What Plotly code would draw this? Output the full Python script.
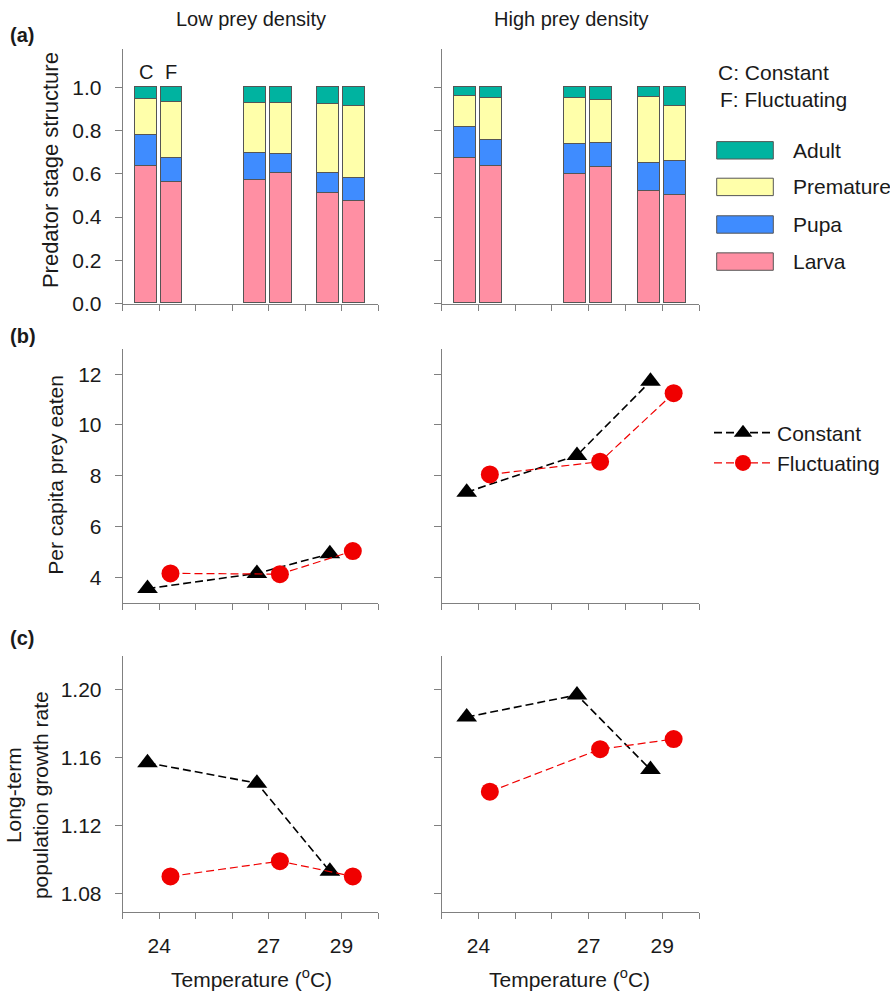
import plotly.graph_objects as go

# ---------------- data ----------------
temperatures = [24, 27, 29]
treatments = ["C", "F"]            # Constant, Fluctuating
stage_names = ["Larva", "Pupa", "Premature", "Adult"]

# stage proportions, order: C24, F24, C27, F27, C29, F29
low_larva = [0.634, 0.562, 0.568, 0.600, 0.507, 0.474]
low_pupa = [0.145, 0.110, 0.127, 0.090, 0.096, 0.105]
low_premature = [0.165, 0.257, 0.229, 0.234, 0.316, 0.333]
low_adult = [0.056, 0.071, 0.076, 0.076, 0.081, 0.088]

high_larva = [0.673, 0.635, 0.598, 0.629, 0.519, 0.501]
high_pupa = [0.141, 0.119, 0.139, 0.113, 0.127, 0.154]
high_premature = [0.145, 0.196, 0.210, 0.198, 0.308, 0.255]
high_adult = [0.041, 0.050, 0.053, 0.060, 0.046, 0.090]

# per capita prey eaten
prey_low_constant = [3.55, 4.15, 4.92]
prey_low_fluctuating = [4.15, 4.12, 5.03]
prey_high_constant = [7.35, 8.80, 11.72]
prey_high_fluctuating = [8.05, 8.55, 11.25]

# long-term population growth rate
growth_low_constant = [1.157, 1.145, 1.093]
growth_low_fluctuating = [1.090, 1.099, 1.090]
growth_high_constant = [1.184, 1.197, 1.153]
growth_high_fluctuating = [1.140, 1.165, 1.171]

y_ticks_a = [0.0, 0.2, 0.4, 0.6, 0.8, 1.0]
y_ticks_b = [4, 6, 8, 10, 12]
y_ticks_c = [1.08, 1.12, 1.16, 1.20]
x_minor_ticks = [23, 25, 26, 28, 30]

# ---------------- style ----------------
W, H = 890, 995
FONT = "Arial, 'Liberation Sans', sans-serif"
TXT = "#1a1a1a"
AX = "#808080"
stage_colors = {"Larva": "#ff8fa3", "Pupa": "#3f8cff",
                "Premature": "#ffffaa", "Adult": "#00b3a0"}
EDGE = "#555555"
BAR_OFF = {"C": -0.37, "F": 0.33}
PT_OFF = {"C": -0.32, "F": 0.31}
BAR_W = 0.6


def px(xp):
    return xp / W


def py(yp):
    return 1 - yp / H


fig = go.Figure()

# ---------- panel (a): stacked bars ----------
bar_x = [t + BAR_OFF[tr] for t in temperatures for tr in treatments]
for stages, xa, ya in [
        ([low_larva, low_pupa, low_premature, low_adult], "x", "y"),
        ([high_larva, high_pupa, high_premature, high_adult], "x2", "y2")]:
    for name, vals in zip(stage_names, stages):
        fig.add_trace(go.Bar(
            x=bar_x, y=vals, width=BAR_W, name=name, xaxis=xa, yaxis=ya,
            marker=dict(color=stage_colors[name], line=dict(color=EDGE, width=1)),
            showlegend=False))


# ---------- panels (b) and (c): lines ----------
def add_lines(c_vals, f_vals, xa, ya, legend):
    fig.add_trace(go.Scatter(
        x=[t + PT_OFF["C"] for t in temperatures], y=c_vals, mode="lines+markers",
        name="Constant", xaxis=xa, yaxis=ya, legend="legend2",
        line=dict(color="black", width=1.6, dash="8px,4px"),
        marker=dict(symbol="triangle-up", size=18, color="black"),
        showlegend=legend))
    fig.add_trace(go.Scatter(
        x=[t + PT_OFF["F"] for t in temperatures], y=f_vals, mode="lines+markers",
        name="Fluctuating", xaxis=xa, yaxis=ya, legend="legend2",
        line=dict(color="#f00000", width=1.2, dash="8px,4px"),
        marker=dict(symbol="circle", size=18, color="#f00000"),
        showlegend=legend))


add_lines(prey_low_constant, prey_low_fluctuating, "x3", "y3", True)
add_lines(prey_high_constant, prey_high_fluctuating, "x4", "y4", False)
add_lines(growth_low_constant, growth_low_fluctuating, "x5", "y5", False)
add_lines(growth_high_constant, growth_high_fluctuating, "x6", "y6", False)

# ---------- axes ----------
xdom_left = [px(122.7), px(378)]
xdom_right = [px(441.7), px(699)]
ydom = {"a": [py(307), py(50)], "b": [py(609.3), py(352.7)], "c": [py(921.7), py(663.3)]}
yrng = {"a": [0, 1.175], "b": [3, 13], "c": [1.0693, 1.22]}
yticks = {"a": (y_ticks_a, ".1f"), "b": (y_ticks_b, "d"), "c": (y_ticks_c, ".2f")}

layout_axes = {}
panels = [("a", "left"), ("a", "right"), ("b", "left"), ("b", "right"),
          ("c", "left"), ("c", "right")]
for i, (row, side) in enumerate(panels, start=1):
    xn = "xaxis" if i == 1 else f"xaxis{i}"
    yn = "yaxis" if i == 1 else f"yaxis{i}"
    xid = "x" if i == 1 else f"x{i}"
    yid = "y" if i == 1 else f"y{i}"
    layout_axes[xn] = dict(
        domain=xdom_left if side == "left" else xdom_right, anchor=yid,
        range=[23, 30], tickmode="array", tickvals=temperatures,
        ticktext=[str(t) for t in temperatures], showticklabels=(row == "c"),
        ticks="outside", ticklen=6, tickcolor=AX, tickwidth=1,
        minor=dict(tickmode="array", tickvals=x_minor_ticks, ticks="outside",
                   ticklen=6, tickcolor=AX, tickwidth=1, showgrid=False),
        ticklabelstandoff=9,
        showline=True, linecolor=AX, linewidth=1, showgrid=False,
        zeroline=False, fixedrange=True,
        tickfont=dict(size=21, color=TXT, family=FONT))
    tv, tf = yticks[row]
    layout_axes[yn] = dict(
        domain=ydom[row], anchor=xid, range=yrng[row],
        tickmode="array", tickvals=tv, tickformat=tf,
        showticklabels=(side == "left"),
        ticks="outside", ticklen=7, tickcolor=AX, tickwidth=1,
        ticklabelstandoff=9,
        showline=True, linecolor=AX, linewidth=1, showgrid=False,
        zeroline=False, fixedrange=True,
        tickfont=dict(size=21, color=TXT, family=FONT))

# ---------- annotations ----------
ann = []


def text(x, y, s, size=20, xanchor="center", angle=0, bold=False):
    ann.append(dict(x=px(x), y=py(y), xref="paper", yref="paper", text=(f"<b>{s}</b>" if bold else s),
                    showarrow=False, xanchor=xanchor, yanchor="middle", textangle=angle,
                    font=dict(size=size, color=TXT, family=FONT)))


text(251, 19, "Low prey density", 20)
text(571, 19, "High prey density", 20)
text(8, 35, "(a)", 20, "left", bold=True)
text(8, 340, "(b)", 20, "left", bold=True)
text(8, 645, "(c)", 20, "left", bold=True)
text(50, 172, "Predator stage structure", 22, angle=-90)
text(56, 480, "Per capita prey eaten", 21, angle=-90)
text(27, 804, "Long-term<br>population growth rate", 21, angle=-90)
text(251, 989, "Temperature (<sup>o</sup>C)", 21)
text(569, 989, "Temperature (<sup>o</sup>C)", 21)
text(716, 73, "C: Constant", 21, "left")
text(718, 101, "F: Fluctuating", 21, "left")

# C / F labels above first pair of bars
for tr in treatments:
    ann.append(dict(x=temperatures[0] + BAR_OFF[tr], y=1.07, xref="x", yref="y", text=tr,
                    showarrow=False, xanchor="center", yanchor="middle",
                    font=dict(size=20, color=TXT, family=FONT)))

# stage legend (swatches)
shapes = []
legend_rows = {"Adult": 152, "Premature": 189, "Pupa": 227, "Larva": 264.5}
for name, yc in legend_rows.items():
    shapes.append(dict(type="rect", xref="paper", yref="paper",
                       x0=px(716.7), x1=px(773.3), y0=py(yc + 8.8), y1=py(yc - 8.8),
                       fillcolor=stage_colors[name], line=dict(color=EDGE, width=1)))
    text(791, yc, name, 21, "left")

fig.update_layout(
    width=W, height=H, margin=dict(l=0, r=0, t=0, b=0),
    paper_bgcolor="white", plot_bgcolor="white",
    barmode="stack", bargap=0,
    font=dict(family=FONT, color=TXT),
    annotations=ann, shapes=shapes,
    legend2=dict(x=px(709), y=py(453), xanchor="left", yanchor="middle",
                 bgcolor="rgba(0,0,0,0)", itemwidth=58,
                 font=dict(size=21, color=TXT, family=FONT), tracegroupgap=0),
    **layout_axes)

fig.write_html("out.html")
